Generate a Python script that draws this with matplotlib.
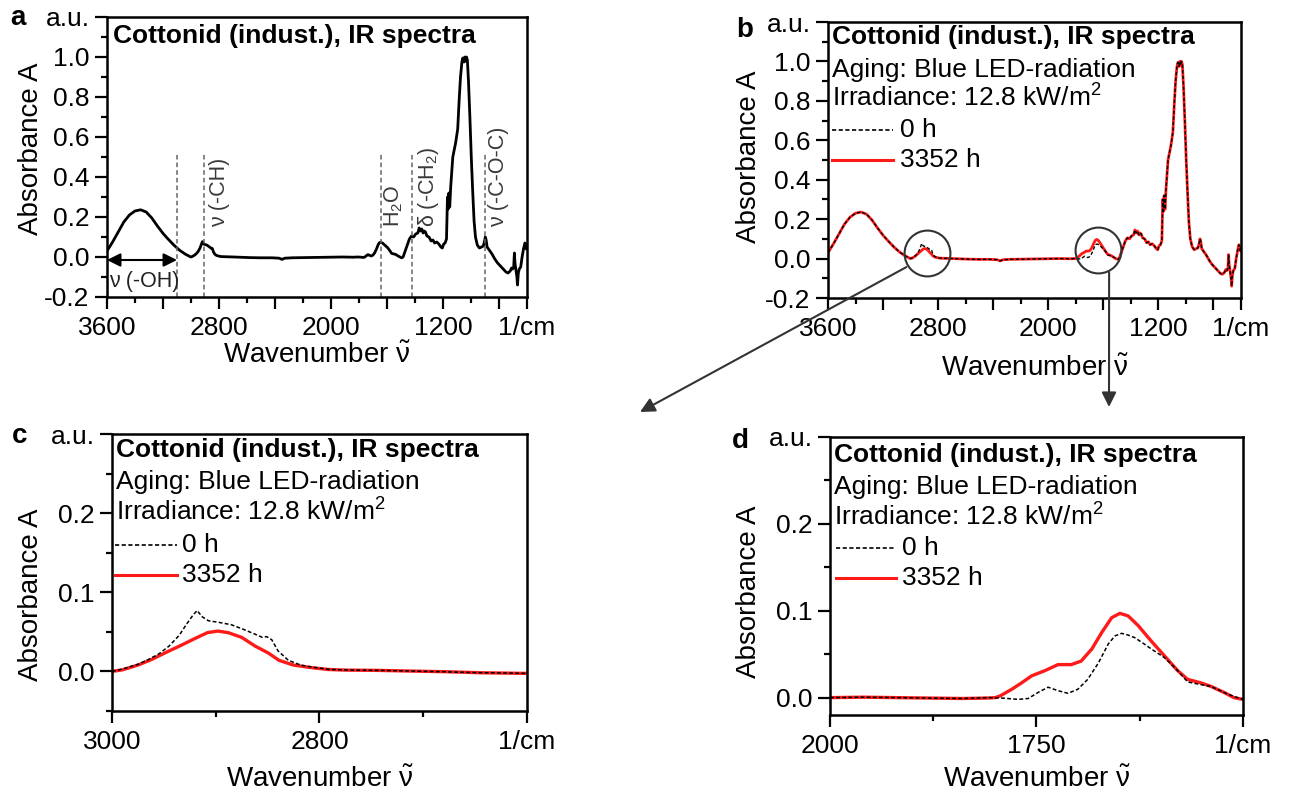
import matplotlib
matplotlib.use('Agg')
import matplotlib.pyplot as plt
from matplotlib.ticker import MultipleLocator, FixedLocator, FixedFormatter

plt.rcParams['font.family'] = ['Liberation Sans', 'DejaVu Sans']
plt.rcParams['mathtext.fontset'] = 'custom'
plt.rcParams['mathtext.rm'] = 'Liberation Sans'
plt.rcParams['mathtext.it'] = 'Liberation Sans:italic'
plt.rcParams['mathtext.bf'] = 'Liberation Sans:bold'
plt.rcParams['mathtext.default'] = 'regular'

# ---------------- data ----------------
# O-H stretching region, shared by both spectra
wn_seg1 = [3600, 3560, 3520, 3480, 3440, 3400, 3360, 3320, 3280, 3240, 3200,
           3160, 3120, 3080, 3040, 3010]
abs_seg1 = [0.030, 0.075, 0.125, 0.175, 0.210, 0.230, 0.236, 0.225, 0.195,
            0.155, 0.118, 0.087, 0.058, 0.033, 0.014, 0.003]

# C-H region (panel c)
wn_ch_0h = [3000, 2990, 2975, 2965, 2955, 2945, 2935, 2928, 2922, 2918, 2913,
            2907, 2897, 2885, 2873, 2862, 2855, 2851, 2846, 2840, 2830, 2818,
            2805, 2790, 2770, 2740, 2710, 2680, 2650, 2620, 2600]
abs_ch_0h = [0.000, 0.003, 0.009, 0.015, 0.022, 0.032, 0.046, 0.060, 0.071,
             0.077, 0.069, 0.064, 0.062, 0.059, 0.053, 0.047, 0.043, 0.044,
             0.040, 0.026, 0.014, 0.008, 0.005, 0.0025, 0.0017, 0.0013,
             0.0004, -0.0004, -0.0015, -0.002, -0.0025]
wn_ch_3352 = [3000, 2990, 2975, 2962, 2948, 2935, 2921, 2908, 2898, 2888, 2875,
              2862, 2849, 2839, 2825, 2809, 2792, 2776, 2743, 2710, 2677, 2644,
              2600]
abs_ch_3352 = [0.000, 0.002, 0.008, 0.015, 0.024, 0.032, 0.041, 0.049, 0.051,
               0.049, 0.043, 0.032, 0.023, 0.014, 0.008, 0.005, 0.0025, 0.0017,
               0.0013, 0.0004, -0.0004, -0.0017, -0.0025]

# flat region, shared
wn_seg2 = [2580, 2500, 2420, 2370, 2350, 2330, 2280, 2200, 2100, 2020]
abs_seg2 = [-0.003, -0.004, -0.004, -0.006, -0.012, -0.006, -0.004, -0.003,
            -0.002, -0.001]

# water / carbonyl region (panel d)
wn_co_0h = [2000, 1960, 1920, 1880, 1840, 1810, 1792, 1772, 1760, 1748, 1736,
            1724, 1712, 1700, 1688, 1675, 1663, 1655, 1647, 1639, 1631, 1620,
            1611, 1595, 1579, 1567, 1551, 1539, 1523, 1510, 1500]
abs_co_0h = [0.000, 0.0005, 0.000, -0.0005, -0.001, 0.000, -0.0005, -0.002,
             -0.001, 0.006, 0.012, 0.008, 0.005, 0.0096, 0.021, 0.040, 0.062,
             0.071, 0.074, 0.072, 0.069, 0.062, 0.056, 0.046, 0.031, 0.018,
             0.015, 0.013, 0.006, 0.001, -0.002]
wn_co_3352 = [2000, 1960, 1920, 1880, 1840, 1810, 1800, 1794, 1780, 1768, 1756,
              1740, 1724, 1708, 1696, 1683, 1671, 1659, 1649, 1639, 1627, 1611,
              1595, 1579, 1567, 1551, 1539, 1523, 1511, 1500]
abs_co_3352 = [0.000, 0.0005, 0.000, -0.0005, -0.001, -0.0005, 0.000, 0.002,
               0.0096, 0.017, 0.025, 0.031, 0.038, 0.038, 0.042, 0.056, 0.075,
               0.092, 0.097, 0.094, 0.083, 0.065, 0.048, 0.031, 0.021, 0.017,
               0.013, 0.006, 0.000, -0.002]

# fingerprint region, shared
wn_seg3 = [1495, 1485, 1470, 1455, 1440, 1425, 1410, 1395, 1380, 1370, 1362,
           1352, 1342, 1335, 1325, 1315, 1300, 1285, 1272, 1260, 1245, 1230,
           1215, 1205, 1195, 1185, 1175, 1168, 1163, 1158, 1152, 1145, 1130,
           1110, 1095, 1085, 1075, 1065, 1058, 1050, 1044, 1038, 1032, 1026,
           1018, 1008, 998, 988, 978, 968, 955, 940, 925, 912, 903, 898, 892,
           885, 870, 850, 830, 810, 790, 770, 750, 735, 720, 710, 702, 695,
           690, 686, 680, 672, 668, 662, 655, 645, 635, 625, 615, 605, 600]
abs_seg3 = [-0.004, 0.000, 0.030, 0.060, 0.090, 0.105, 0.100, 0.115, 0.120,
            0.145, 0.130, 0.140, 0.120, 0.130, 0.125, 0.105, 0.100, 0.080,
            0.085, 0.070, 0.075, 0.065, 0.050, 0.045, 0.065, 0.070, 0.090,
            0.300, 0.240, 0.320, 0.250, 0.350, 0.500, 0.570, 0.640, 0.780,
            0.900, 0.975, 0.995, 0.975, 1.000, 0.980, 1.000, 0.985, 0.880,
            0.700, 0.500, 0.330, 0.180, 0.100, 0.060, 0.045, 0.050, 0.055,
            0.080, 0.100, 0.085, 0.050, 0.035, 0.015, -0.010, -0.030, -0.045,
            -0.060, -0.075, -0.080, -0.070, -0.055, -0.060, -0.050, 0.020,
            -0.030, -0.060, -0.100, -0.140, -0.080, -0.060, -0.050, 0.000,
            0.040, 0.070, 0.040, 0.060]

wn_0h = wn_seg1 + wn_ch_0h + wn_seg2 + wn_co_0h + wn_seg3
abs_0h = abs_seg1 + abs_ch_0h + abs_seg2 + abs_co_0h + abs_seg3
wn_3352 = wn_seg1 + wn_ch_3352 + wn_seg2 + wn_co_3352 + wn_seg3
abs_3352 = abs_seg1 + abs_ch_3352 + abs_seg2 + abs_co_3352 + abs_seg3

band_lines = [3100, 2905, 1640, 1420, 900]
band_labels = [r'ν (-CH)', r'H$_2$O', r'δ (-CH$_2$)', r'ν (-C-O-C)']
band_label_x = [2795, 1555, 1305, 800]

circle_wn = [2880, 1640]
circle_abs = [0.03, 0.045]

TITLE = 'Cottonid (indust.), IR spectra'
INFO1 = 'Aging: Blue LED-radiation'
INFO2 = r'Irradiance: 12.8 kW/m$^2$'
LEG = ['0 h', '3352 h']
XLABEL = r'Wavenumber $\tilde{ν}$'
YLABEL = 'Absorbance A'
RED = '#ff1a1a'

TICK_FS = 19
LAB_FS = 20
TXT_FS = 19

# ---------------- figure ----------------
W, H = 1292, 798
fig = plt.figure(figsize=(W / 100, H / 100), dpi=100)


def rect(l, t, r, b):
    return [l / W, 1 - b / H, (r - l) / W, (b - t) / H]


ax_a = fig.add_axes(rect(107, 17, 527, 297))
ax_b = fig.add_axes(rect(828, 22, 1241, 298))
ax_c = fig.add_axes(rect(112, 434, 527, 711))
ax_d = fig.add_axes(rect(830, 437, 1243, 715))


def style(ax, xlim, xmaj, xlab, xminor, ylim, ymaj, ylab, yminor):
    ax.set_xlim(*xlim)
    ax.set_ylim(*ylim)
    ax.xaxis.set_major_locator(FixedLocator(xmaj))
    ax.xaxis.set_major_formatter(FixedFormatter(xlab))
    ax.xaxis.set_minor_locator(MultipleLocator(xminor))
    ax.yaxis.set_major_locator(FixedLocator(ymaj))
    ax.yaxis.set_major_formatter(FixedFormatter(ylab))
    ax.yaxis.set_minor_locator(MultipleLocator(yminor))
    ax.tick_params(which='both', direction='out', width=1.6, top=False,
                   right=False, labelsize=TICK_FS)
    ax.tick_params(which='major', length=8.5)
    ax.tick_params(which='minor', length=4.5)
    ax.tick_params(axis='x', pad=5)
    ax.tick_params(axis='y', pad=4)
    for s in ax.spines.values():
        s.set_linewidth(1.8)
    ax.set_xlabel(XLABEL, fontsize=LAB_FS)
    ax.set_ylabel(YLABEL, fontsize=LAB_FS)


big_xmaj = [3600, 3200, 2800, 2400, 2000, 1600, 1200, 800, 600]
big_xlab = ['3600', '', '2800', '', '2000', '', '1200', '', '1/cm']
big_ymaj = [-0.2, 0.0, 0.2, 0.4, 0.6, 0.8, 1.0, 1.2]
big_ylab = ['-0.2', '0.0', '0.2', '0.4', '0.6', '0.8', '1.0', 'a.u.']
small_ymaj = [0.0, 0.1, 0.2, 0.3]
small_ylab = ['0.0', '0.1', '0.2', 'a.u.']

style(ax_a, (3600, 600), big_xmaj, big_xlab, 200, (-0.2, 1.2), big_ymaj, big_ylab, 0.1)
style(ax_b, (3600, 600), big_xmaj, big_xlab, 200, (-0.2, 1.2), big_ymaj, big_ylab, 0.1)
style(ax_c, (3000, 2600), [3000, 2800, 2600], ['3000', '2800', '1/cm'], 100,
      (-0.05, 0.3), small_ymaj, small_ylab, 0.05)
style(ax_d, (2000, 1500), [2000, 1750, 1500], ['2000', '1750', '1/cm'], 125,
      (-0.02, 0.3), small_ymaj, small_ylab, 0.05)

# label positions
ax_a.yaxis.set_label_coords(-0.15, 0.53)
ax_b.yaxis.set_label_coords(-0.16, 0.51)
ax_c.yaxis.set_label_coords(-0.164, 0.42)
ax_d.yaxis.set_label_coords(-0.165, 0.445)
ax_a.xaxis.set_label_coords(0.5, -0.165)
ax_b.xaxis.set_label_coords(0.5, -0.21)
ax_c.xaxis.set_label_coords(0.5, -0.2)
ax_d.xaxis.set_label_coords(0.5, -0.185)

# ---------------- panel a ----------------
ax_a.plot(wn_0h, abs_0h, color='black', lw=2.0, solid_joinstyle='round')
ax_a.vlines(band_lines, -0.2, 0.52, colors='#666666', linestyles=(0, (3, 2)), lw=1.1)
for lab, x in zip(band_labels, band_label_x):
    ax_a.text(x, 0.15, lab, rotation=90, ha='center', va='bottom',
              fontsize=15.5, color='#3a3a3a')
ax_a.annotate('', xy=(3100, -0.015), xytext=(3600, -0.015),
              arrowprops=dict(arrowstyle='<|-|>', color='black', lw=1.5,
                              mutation_scale=20, shrinkA=0, shrinkB=0))
ax_a.text(3588, -0.125, 'ν (-OH)', fontsize=15.5, ha='left', va='center', color='#222222')
ax_a.text(0.014, 0.933, TITLE, transform=ax_a.transAxes, fontsize=TXT_FS,
          fontweight='bold', ha='left', va='center')


# ---------------- legend helper ----------------
def info_block(ax, ys, x0, xl0, xl1, xt):
    ax.text(x0, ys[0], TITLE, transform=ax.transAxes, fontsize=TXT_FS,
            fontweight='bold', ha='left', va='center')
    ax.text(x0, ys[1], INFO1, transform=ax.transAxes, fontsize=TXT_FS,
            ha='left', va='center')
    ax.text(x0, ys[2], INFO2, transform=ax.transAxes, fontsize=TXT_FS,
            ha='left', va='center')
    ax.plot([xl0, xl1], [ys[3], ys[3]], transform=ax.transAxes, color='black',
            lw=1.2, ls=(0, (2.5, 1.5)))
    ax.plot([xl0, xl1], [ys[4], ys[4]], transform=ax.transAxes, color=RED, lw=2.2)
    ax.text(xt, ys[3], LEG[0], transform=ax.transAxes, fontsize=TXT_FS,
            ha='left', va='center')
    ax.text(xt, ys[4], LEG[1], transform=ax.transAxes, fontsize=TXT_FS,
            ha='left', va='center')


# ---------------- panel b ----------------
ax_b.plot(wn_3352, abs_3352, color=RED, lw=2.0)
ax_b.plot(wn_0h, abs_0h, color='black', lw=1.0, ls=(0, (2.5, 1.5)))
info_block(ax_b, [0.946, 0.826, 0.725, 0.609, 0.50], 0.01, 0.01, 0.157, 0.174)
ax_b.plot(circle_wn, circle_abs, ls='none', marker='o', ms=33, mfc='none',
          mec='#333333', mew=1.5)
ax_b.annotate('', xy=(640, H - 412), xycoords='figure pixels',
              xytext=(3030, -0.043), textcoords='data',
              arrowprops=dict(arrowstyle='-|>', color='#333333', lw=1.5,
                              mutation_scale=22, shrinkA=0, shrinkB=0))
ax_b.annotate('', xy=(1109, H - 407), xycoords='figure pixels',
              xytext=(1558, -0.07), textcoords='data',
              arrowprops=dict(arrowstyle='-|>', color='#333333', lw=1.5,
                              mutation_scale=22, shrinkA=0, shrinkB=0))

# ---------------- panel c ----------------
ax_c.plot(wn_ch_3352, abs_ch_3352, color=RED, lw=2.4)
ax_c.plot(wn_ch_0h, abs_ch_0h, color='black', lw=1.1, ls=(0, (2.5, 1.5)))
info_block(ax_c, [0.942, 0.827, 0.718, 0.599, 0.49], 0.01, 0.007, 0.157, 0.169)

# ---------------- panel d ----------------
ax_d.plot(wn_co_3352, abs_co_3352, color=RED, lw=2.4)
ax_d.plot(wn_co_0h, abs_co_0h, color='black', lw=1.1, ls=(0, (2.5, 1.5)))
info_block(ax_d, [0.935, 0.82, 0.712, 0.60, 0.493], 0.01, 0.015, 0.16, 0.174)

# panel letters
for lab, (x, y) in zip(['a', 'b', 'c', 'd'], [(18, 18), (745, 30), (20, 436), (740, 441)]):
    fig.text(x / W, 1 - y / H, lab, fontsize=20, fontweight='bold',
             ha='center', va='center')

fig.savefig('out.png', dpi=100)
